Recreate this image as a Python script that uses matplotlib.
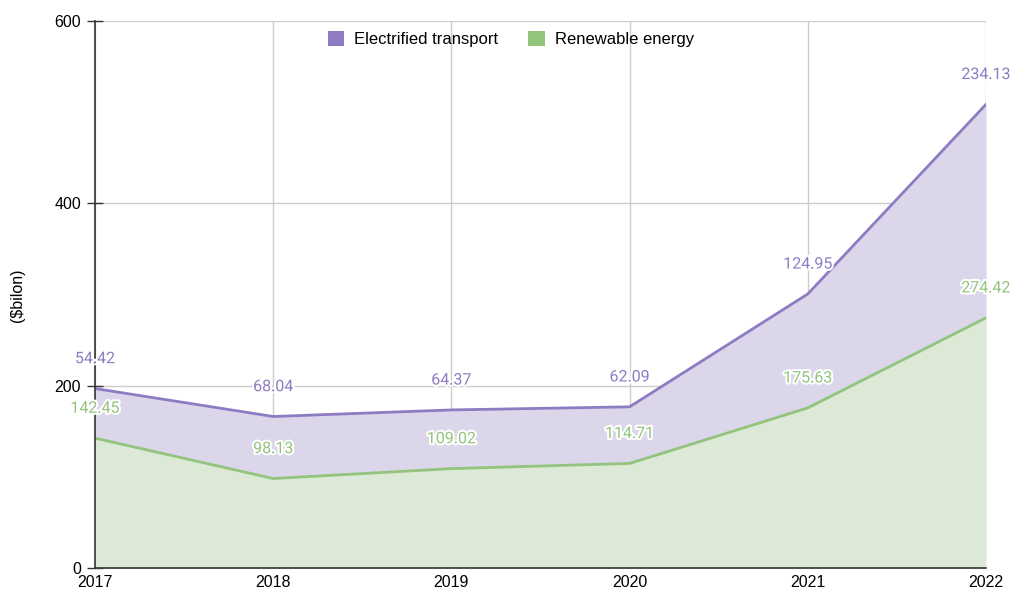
import matplotlib.pyplot as plt
import matplotlib.patheffects as pe
from matplotlib.patches import Patch

years = [2017, 2018, 2019, 2020, 2021, 2022]
renewable = [142.45, 98.13, 109.02, 114.71, 175.63, 274.42]
transport = [54.42, 68.04, 64.37, 62.09, 124.95, 234.13]

purple_line = '#8e7cc3'
purple_fill = '#dcd6ea'
green_line = '#93c47d'
green_fill = '#dce9d6'

plt.rcParams['font.family'] = ['Liberation Sans', 'DejaVu Sans']

fig = plt.figure(figsize=(10.12, 5.89), dpi=100)
ax = fig.add_axes([95 / 1012, 21 / 589, 891 / 1012, 547 / 589])

top = [r + t for r, t in zip(renewable, transport)]
ax.fill_between(years, 0, renewable, color=green_fill, lw=0, zorder=1)
ax.fill_between(years, renewable, top, color=purple_fill, lw=0, zorder=1)
ax.plot(years, renewable, color=green_line, lw=2, zorder=3)
ax.plot(years, top, color=purple_line, lw=2, zorder=3)

halo = [pe.withStroke(linewidth=3, foreground='white')]
for x, r, t, tt in zip(years, renewable, transport, top):
    ax.annotate(f'{t:.2f}', (x, tt), xytext=(0, 21.5), textcoords='offset points',
                ha='center', va='center', color=purple_line, fontsize=11.5,
                family='Roboto', path_effects=halo, zorder=5, annotation_clip=False)
    ax.annotate(f'{r:.2f}', (x, r), xytext=(0, 21.5), textcoords='offset points',
                ha='center', va='center', color=green_line, fontsize=11.5,
                family='Roboto', path_effects=halo, zorder=5, annotation_clip=False)

ax.set_xlim(2017, 2022)
ax.set_ylim(0, 600)
ax.set_xticks(years)
ax.set_yticks([0, 200, 400, 600])
ax.grid(True, color='#cccccc', lw=1, zorder=0)
ax.set_axisbelow(True)
for s in ['top', 'right']:
    ax.spines[s].set_visible(False)
for s in ['left', 'bottom']:
    ax.spines[s].set_color('#333333')
    ax.spines[s].set_linewidth(1.2)
    ax.spines[s].set_zorder(4)
ax.tick_params(axis='y', direction='inout', length=12, width=1, color='#333333',
               labelsize=11.5, pad=4)
ax.tick_params(axis='x', length=0, labelsize=11.5, pad=5)
fig.text(18 / 1012, 1 - 295 / 589, '($bilon)', rotation=90, fontsize=11.5,
         ha='center', va='center')

handles = [Patch(facecolor=purple_line, label='Electrified transport'),
           Patch(facecolor=green_line, label='Renewable energy')]
fig.legend(handles=handles, loc='center', bbox_to_anchor=(511 / 1012, 1 - 39 / 589),
           ncol=2, frameon=False, fontsize=12, handlelength=1.0, handleheight=1.0,
           handletextpad=0.6, columnspacing=1.8)

fig.savefig('out.png', dpi=100)
